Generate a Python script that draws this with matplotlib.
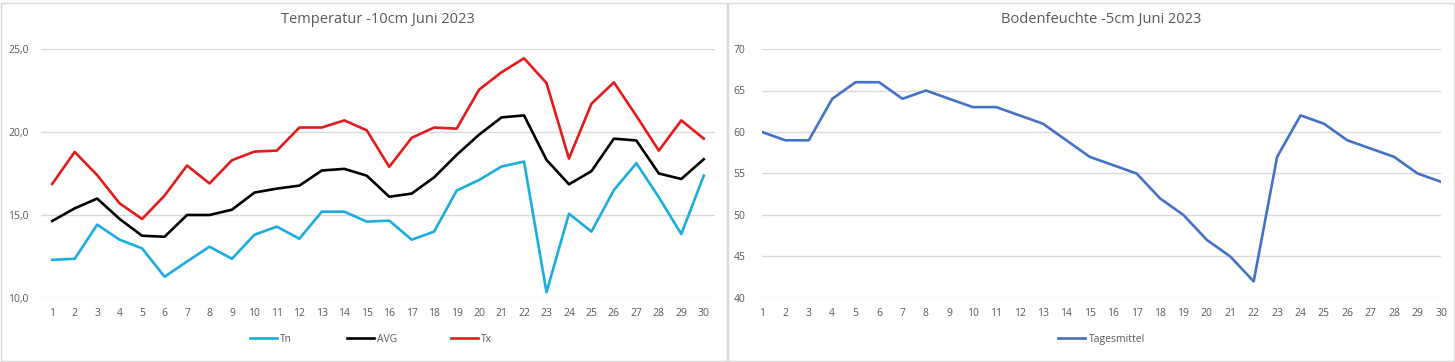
import matplotlib.pyplot as plt
from matplotlib.patches import Rectangle

days = list(range(1, 31))

tn = [12.3, 12.36, 14.42, 13.51, 12.99, 11.28, 12.2, 13.09, 12.36, 13.81,
      14.3, 13.57, 15.2, 15.2, 14.6, 14.66, 13.51, 14.0, 16.47, 17.11,
      17.92, 18.22, 10.35, 15.08, 14.0, 16.5, 18.12, 16.07, 13.85, 17.37]
avg = [14.64, 15.4, 15.99, 14.76, 13.75, 13.69, 15.0, 15.0, 15.32, 16.35,
       16.59, 16.77, 17.68, 17.78, 17.37, 16.1, 16.29, 17.27, 18.62, 19.84,
       20.88, 21.0, 18.32, 16.85, 17.64, 19.6, 19.49, 17.5, 17.17, 18.36]
tx = [16.87, 18.8, 17.4, 15.7, 14.76, 16.17, 17.98, 16.9, 18.3, 18.82,
      18.88, 20.27, 20.27, 20.7, 20.1, 17.9, 19.65, 20.27, 20.2, 22.55,
      23.6, 24.44, 22.95, 18.4, 21.7, 22.99, 20.97, 18.88, 20.7, 19.6]

feuchte = [60, 59, 59, 64, 66, 66, 64, 65, 64, 63, 63, 62, 61, 59, 57,
           56, 55, 52, 50, 47, 45, 42, 57, 62, 61, 59, 58, 57, 55, 54]

temp_ticks = [10, 15, 20, 25]
feuchte_ticks = [40, 45, 50, 55, 60, 65, 70]

plt.rcParams['font.family'] = ['Open Sans', 'DejaVu Sans']
txt = '#595959'
grid = '#d9d9d9'

fig = plt.figure(figsize=(14.55, 3.62), dpi=100)

# panel borders
for x0, w in [(0.5, 726), (727.5, 726)]:
    fig.patches.append(Rectangle((x0 / 1455, 1 / 362), w / 1455, 358 / 362,
                                 transform=fig.transFigure, fill=False,
                                 edgecolor=grid, lw=1))


def style(ax):
    for s in ax.spines.values():
        s.set_visible(False)
    ax.grid(axis='y', color=grid, lw=1)
    ax.set_axisbelow(True)
    ax.tick_params(length=0, labelsize=7.5, colors=txt)
    ax.tick_params(axis='y', pad=9)
    ax.tick_params(axis='x', pad=7)
    ax.set_xticks(days)


# left chart
ax1 = fig.add_axes([41 / 1455, 64 / 362, 674 / 1455, 249 / 362])
style(ax1)
ax1.plot(days, tn, color='#1BACE0', lw=1.9, label='Tn')
ax1.plot(days, avg, color='black', lw=1.9, label='AVG')
ax1.plot(days, tx, color='#E31B1B', lw=1.9, label='Tx')
ax1.set_xlim(0.5, 30.5)
ax1.set_ylim(10, 25)
ax1.set_yticks(temp_ticks)
ax1.set_yticklabels([f"{t:.1f}".replace('.', ',') for t in temp_ticks])
ax1.set_title("Temperatur -10cm Juni 2023", fontsize=10.5, color=txt, pad=19)
ax1.legend(loc='center', bbox_to_anchor=(0.49, -0.165), ncol=3, frameon=False,
           fontsize=7.5, labelcolor=txt, handlelength=2.6, handletextpad=0.3,
           columnspacing=5.2)

# right chart
ax2 = fig.add_axes([762 / 1455, 64 / 362, 679 / 1455, 249 / 362])
style(ax2)
ax2.plot(days, feuchte, color='#4472C4', lw=1.9, label='Tagesmittel')
ax2.set_xlim(1, 30)
ax2.set_ylim(40, 70)
ax2.set_yticks(feuchte_ticks)
ax2.tick_params(axis='y', pad=12)
ax2.set_title("Bodenfeuchte -5cm Juni 2023", fontsize=10.5, color=txt, pad=19)
ax2.legend(loc='center', bbox_to_anchor=(0.5, -0.165), ncol=1, frameon=False,
           fontsize=7.5, labelcolor=txt, handlelength=2.6, handletextpad=0.3)

fig.savefig('out.png', dpi=100)
